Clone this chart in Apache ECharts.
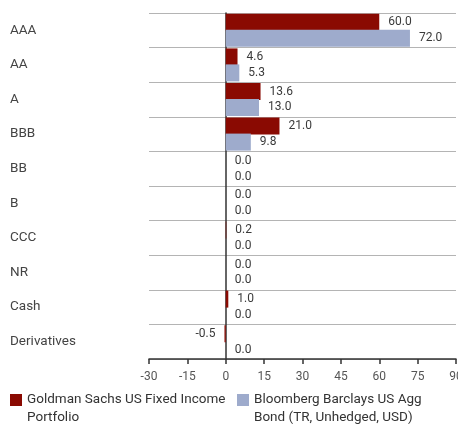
<!DOCTYPE html>
<html>
<head>
<meta charset="utf-8">
<script src="https://cdn.jsdelivr.net/npm/echarts@6/dist/echarts.min.js"></script>
<style>
  html, body { margin: 0; padding: 0; background: #fff; }
  #chart { width: 458px; height: 428px; }
</style>
</head>
<body>
<div id="chart"></div>
<script>
// Credit quality breakdown (% of holdings)
const categories = ['AAA', 'AA', 'A', 'BBB', 'BB', 'B', 'CCC', 'NR', 'Cash', 'Derivatives'];
const portfolioName = 'Goldman Sachs US Fixed Income\nPortfolio';
const benchmarkName = 'Bloomberg Barclays US Agg\nBond (TR, Unhedged, USD)';
const portfolioValues = [60.0, 4.6, 13.6, 21.0, 0.0, 0.0, 0.2, 0.0, 1.0, -0.5];
const benchmarkValues = [72.0, 5.3, 13.0, 9.8, 0.0, 0.0, 0.0, 0.0, 0.0, 0.0];
const xTicks = { min: -30, max: 90, interval: 15 };

const FONT = 'Roboto, "Liberation Sans", sans-serif';
const RED = '#8a0a02';
const BLUE = '#9eabcc';

// square swatch sitting on the first line of a two-line legend label
const SWATCH = 'path://M0,0H12V12H0Z M0,29.99H0.01V30H0Z';

function withLabels(values) {
  return values.map(v => ({
    value: v,
    label: { position: v < 0 ? 'left' : 'right' }
  }));
}

const labelStyle = {
  show: true,
  distance: 9,
  fontFamily: FONT,
  fontSize: 12,
  color: '#3a3a3a',
  formatter: p => p.value.toFixed(1)
};

const legendText = { fontFamily: FONT, fontSize: 13.5, color: '#333', lineHeight: 18 };

const chart = echarts.init(document.getElementById('chart'), null, { renderer: 'canvas' });
chart.setOption({
  animation: false,
  backgroundColor: '#fff',
  textStyle: { fontFamily: FONT },
  grid: { left: 149, right: 2, top: 13, bottom: 69, containLabel: false, outerBoundsMode: 'none' },
  xAxis: {
    type: 'value',
    min: xTicks.min,
    max: xTicks.max,
    interval: xTicks.interval,
    axisLine: { show: true, onZero: false, lineStyle: { color: '#333', width: 1.5 } },
    axisTick: { show: true, length: 5, lineStyle: { color: '#333', width: 1.5 } },
    axisLabel: { fontFamily: FONT, fontSize: 12, color: '#555', margin: 12, hideOverlap: false },
    splitLine: { show: false }
  },
  yAxis: {
    type: 'category',
    data: categories,
    inverse: true,
    axisLine: { show: true, onZero: true, lineStyle: { color: '#333', width: 1.5 } },
    axisTick: { show: false },
    axisLabel: {
      fontFamily: FONT, fontSize: 13.5, color: '#444',
      align: 'left', margin: 139
    },
    splitLine: { show: true, lineStyle: { color: '#b4b4b4', width: 1.2 } }
  },
  legend: [
    {
      left: 10, top: 391, padding: 0, orient: 'horizontal',
      icon: SWATCH, itemWidth: 12, itemHeight: 30, itemGap: 10,
      textStyle: legendText,
      data: [portfolioName]
    },
    {
      left: 237, top: 391, padding: 0, orient: 'horizontal',
      icon: SWATCH, itemWidth: 12, itemHeight: 30, itemGap: 10,
      textStyle: legendText,
      data: [benchmarkName]
    }
  ],
  series: [
    {
      name: portfolioName,
      type: 'bar',
      data: withLabels(portfolioValues),
      itemStyle: { color: RED },
      barWidth: 17,
      barGap: '-6%',
      label: labelStyle
    },
    {
      name: benchmarkName,
      type: 'bar',
      data: withLabels(benchmarkValues),
      itemStyle: { color: BLUE },
      barWidth: 17,
      label: labelStyle
    }
  ]
});
</script>
</body>
</html>
